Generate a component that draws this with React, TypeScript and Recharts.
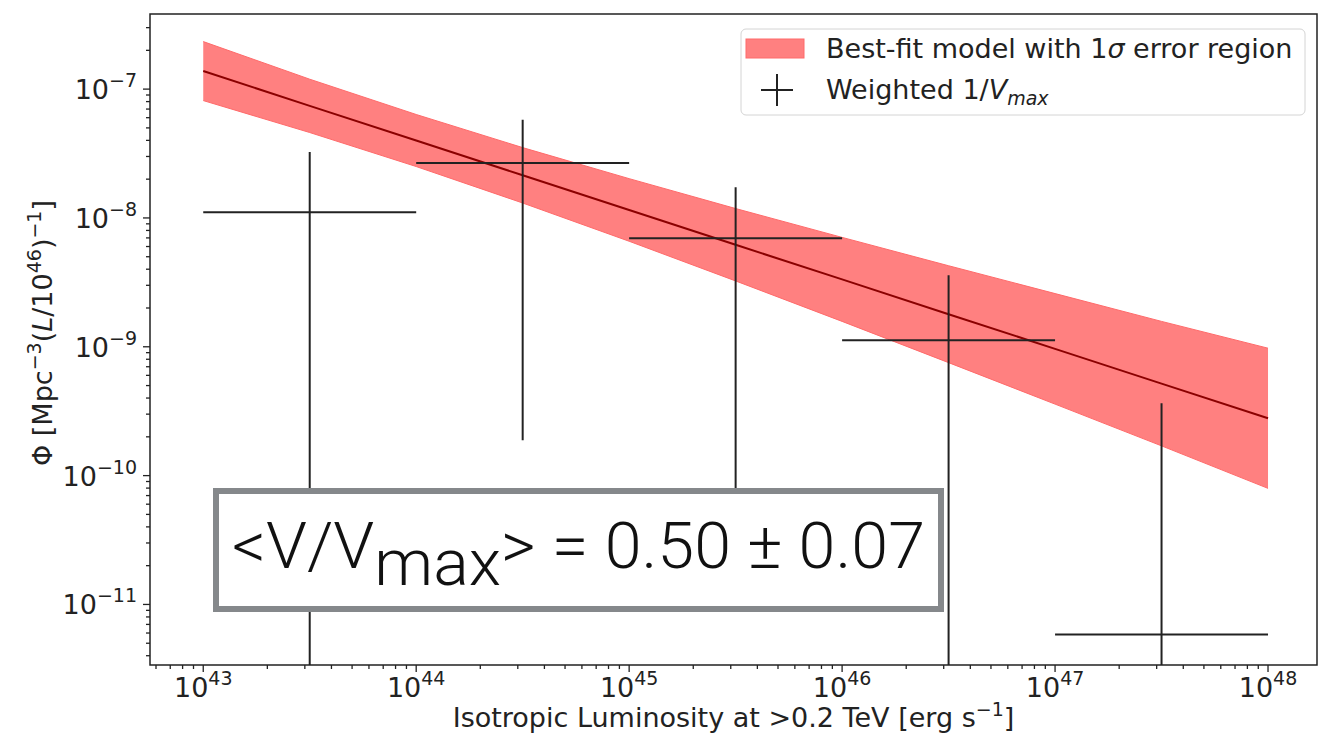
import React from 'react'
import {
  ComposedChart,
  Area,
  Line,
  XAxis,
  YAxis,
  ReferenceArea,
  Legend
} from 'recharts'

// all values are log10 of the plotted quantity
const xDecades = [43, 44, 45, 46, 47, 48]
const yDecades = [-7, -8, -9, -10, -11]

// best-fit model and its 1 sigma band
const fitLogL = [43, 43.5, 44, 44.5, 45, 45.5, 46, 46.5, 47, 47.5, 48]
const fitCenter = [-6.86, -7.13, -7.399, -7.669, -7.938, -8.208, -8.477, -8.747, -9.016, -9.286, -9.555]
const fitUpper = [-6.631, -6.923, -7.197, -7.454, -7.695, -7.927, -8.151, -8.371, -8.587, -8.803, -9.011]
const fitLower = [-7.089, -7.337, -7.601, -7.884, -8.181, -8.489, -8.803, -9.123, -9.445, -9.769, -10.099]

// weighted 1/Vmax points
const binLo = [43, 44, 45, 46, 47]
const binHi = [44, 45, 46, 47, 48]
const binMid = [43.5, 44.5, 45.5, 46.5, 47.5]
const phi = [-7.955, -7.573, -8.157, -8.95, -11.233]
const phiUp = [-7.489, -7.238, -7.761, -8.445, -9.439]
const phiDown = [-11.6, -9.726, -10.5, -11.6, -11.6]

const X_DOMAIN: [number, number] = [42.75, 48.23]
const Y_DOMAIN: [number, number] = [-11.47, -6.417]

const FONT = 'DejaVu Sans'
const INK = '#222'
const FS = 27
const SUP = 19

const minorLogs = [2, 3, 4, 5, 6, 7, 8, 9].map((k) => Math.log10(k))

const xTicks: number[] = []
for (let d = 42; d <= 48; d++) {
  if (d >= X_DOMAIN[0]) xTicks.push(d)
  minorLogs.forEach((m) => {
    const v = d + m
    if (v >= X_DOMAIN[0] && v <= X_DOMAIN[1]) xTicks.push(v)
  })
}
const yTicks: number[] = []
for (let d = -12; d <= -7; d++) {
  if (d >= Y_DOMAIN[0] && d <= Y_DOMAIN[1]) yTicks.push(d)
  minorLogs.forEach((m) => {
    const v = d + m
    if (v >= Y_DOMAIN[0] && v <= Y_DOMAIN[1]) yTicks.push(v)
  })
}

const fitData = fitLogL.map((x, i) => ({
  x,
  center: fitCenter[i],
  band: [fitLower[i], fitUpper[i]]
}))

const hBars = binMid.map((_, i) => [
  { x: binLo[i], y: phi[i] },
  { x: binHi[i], y: phi[i] }
])
const vBars = binMid.map((x, i) => [
  { x, y: phiDown[i] },
  { x, y: phiUp[i] }
])

const isMajor = (v: number) => Math.abs(v - Math.round(v)) < 1e-6

const XTick = ({ x, y, payload }: any) => {
  const v = payload.value
  const major = isMajor(v)
  return (
    <g>
      <line x1={x} x2={x} y1={y} y2={y + (major ? 7 : 4)} stroke={INK} strokeWidth={1.3} />
      {major && xDecades.includes(Math.round(v)) && (
        <text x={x} y={y + 32} textAnchor="middle" fontSize={FS} fontFamily={FONT} fill={INK}>
          <tspan>10</tspan>
          <tspan dy={-12} fontSize={SUP}>{Math.round(v)}</tspan>
        </text>
      )}
    </g>
  )
}

const YTick = ({ x, y, payload }: any) => {
  const v = payload.value
  const major = isMajor(v)
  return (
    <g>
      <line x1={x} x2={x - (major ? 7 : 4)} y1={y} y2={y} stroke={INK} strokeWidth={1.3} />
      {major && yDecades.includes(Math.round(v)) && (
        <text x={x - 13} y={y + 10} textAnchor="end" fontSize={FS} fontFamily={FONT} fill={INK}>
          <tspan>10</tspan>
          <tspan dy={-12} fontSize={SUP}>{'\u2212' + Math.abs(Math.round(v))}</tspan>
        </text>
      )}
    </g>
  )
}

const XLabel = ({ viewBox }: any) => {
  const cx = viewBox.x + viewBox.width / 2
  return (
    <text x={cx} y={viewBox.y + 62} textAnchor="middle" fontSize={FS} fontFamily={FONT} fill={INK}>
      <tspan>Isotropic Luminosity at &gt;0.2 TeV [erg s</tspan>
      <tspan dy={-11} fontSize={SUP}>{'\u22121'}</tspan>
      <tspan dy={11}>]</tspan>
    </text>
  )
}

const YLabel = () => (
  <text
    x={52}
    y={333}
    transform="rotate(-90, 52, 333)"
    textAnchor="middle"
    fontSize={FS}
    fontFamily={FONT}
    fill={INK}
  >
    <tspan>Φ [Mpc</tspan>
    <tspan dy={-11} fontSize={SUP}>{'\u22123'}</tspan>
    <tspan dy={11}>(</tspan>
    <tspan fontStyle="italic">L</tspan>
    <tspan>/10</tspan>
    <tspan dy={-11} fontSize={SUP}>46</tspan>
    <tspan dy={11}>)</tspan>
    <tspan dy={-11} fontSize={SUP}>{'\u22121'}</tspan>
    <tspan dy={11}>]</tspan>
  </text>
)

const LegendBox = () => (
  <svg width={566} height={88}>
    <rect x={1} y={1} width={564} height={86} rx={5} fill="#fff" fillOpacity={0.8} stroke="#d4d4d4" />
    <rect x={6} y={11} width={58} height={19} fill="#ff8080" stroke="#ff6a6a" />
    <text x={86} y={30} fontSize={FS} fontFamily={FONT} fill={INK}>
      <tspan>Best-fit model with 1</tspan>
      <tspan fontStyle="italic">σ</tspan>
      <tspan> error region</tspan>
    </text>
    <line x1={21} x2={53} y1={62} y2={62} stroke={INK} strokeWidth={2} />
    <line x1={37} x2={37} y1={46} y2={78} stroke={INK} strokeWidth={2} />
    <text x={86} y={71} fontSize={FS} fontFamily={FONT} fill={INK}>
      <tspan>Weighted 1/</tspan>
      <tspan fontStyle="italic">V</tspan>
      <tspan dy={6} fontSize={SUP} fontStyle="italic">max</tspan>
    </text>
  </svg>
)

export default function App() {
  return (
    <div style={{ position: 'absolute', left: 0, top: 0, width: 1342, height: 737, background: '#fff' }}>
      <ComposedChart
        width={1342}
        height={737}
        data={fitData}
        margin={{ top: 14, right: 25, bottom: 0, left: 0 }}
      >
        <XAxis
          type="number"
          dataKey="x"
          domain={X_DOMAIN}
          allowDataOverflow
          ticks={xTicks}
          interval={0}
          tickSize={0}
          tickMargin={0}
          axisLine={false}
          tick={<XTick />}
          height={72}
          label={<XLabel />}
        />
        <YAxis
          type="number"
          domain={Y_DOMAIN}
          allowDataOverflow
          ticks={yTicks}
          interval={0}
          tickSize={0}
          tickMargin={0}
          axisLine={false}
          tick={<YTick />}
          width={150}
          label={<YLabel />}
        />
        <Area
          dataKey="band"
          type="linear"
          fill="#ff8080"
          fillOpacity={1}
          stroke="#ff6a6a"
          strokeWidth={1}
          isAnimationActive={false}
          legendType="none"
        />
        <Line
          dataKey="center"
          type="linear"
          stroke="#8b0000"
          strokeWidth={2}
          dot={false}
          isAnimationActive={false}
          legendType="none"
        />
        {hBars.map((d, i) => (
          <Line
            key={'h' + i}
            data={d}
            dataKey="y"
            type="linear"
            stroke={INK}
            strokeWidth={2}
            dot={false}
            isAnimationActive={false}
            legendType="none"
          />
        ))}
        {vBars.map((d, i) => (
          <Line
            key={'v' + i}
            data={d}
            dataKey="y"
            type="linear"
            stroke={INK}
            strokeWidth={2}
            dot={false}
            isAnimationActive={false}
            legendType="none"
          />
        ))}
        <ReferenceArea
          x1={X_DOMAIN[0]}
          x2={X_DOMAIN[1]}
          y1={Y_DOMAIN[0]}
          y2={Y_DOMAIN[1]}
          fill="none"
          stroke={INK}
          strokeWidth={1.5}
          ifOverflow="visible"
        />
        <Legend
          layout="vertical"
          align="center"
          verticalAlign="middle"
          content={<LegendBox />}
          wrapperStyle={{ left: 740, top: 28, width: 566, height: 88 }}
        />
      </ComposedChart>
      <svg
        width={1342}
        height={737}
        style={{ position: 'absolute', left: 0, top: 0, pointerEvents: 'none' }}
      >
        <rect x={216} y={491} width={725} height={118} fill="#fff" stroke="#85888b" strokeWidth={6} />
        <text
          x={232}
          y={568}
          fontSize={64}
          fontFamily="Roboto"
          fontWeight={300}
          fill="#111"
          textLength={693}
          lengthAdjust="spacingAndGlyphs"
        >
          <tspan>&lt;V/V</tspan>
          <tspan dy={17}>max</tspan>
          <tspan dy={-17}>&gt; = 0.50 ± 0.07</tspan>
        </text>
      </svg>
    </div>
  )
}
